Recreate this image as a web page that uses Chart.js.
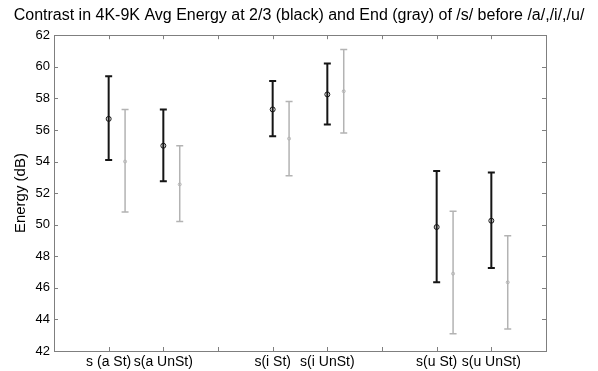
<!DOCTYPE html>
<html>
<head>
<meta charset="utf-8">
<script src="https://cdn.jsdelivr.net/npm/chart.js"></script>
<style>
  html, body { margin: 0; padding: 0; background: #fff; }
  #wrap { width: 598px; height: 371px; }
</style>
</head>
<body>
<div id="wrap"><canvas id="c" width="598" height="371"></canvas></div>
<script>
// 类别（空字符串 = 分隔用的空位）
const categories = ['s (a St)', 's(a UnSt)', '', 's(i St)', 's(i UnSt)', '', 's(u St)', 's(u UnSt)'];

// 2/3 处（黑色）
const blackMean = [56.7, 55.0, null, 57.3, 58.25, null, 49.85, 50.25];
const blackLow  = [54.1, 52.75, null, 55.6, 56.35, null, 46.35, 47.25];
const blackHigh = [59.4, 57.3, null, 59.1, 60.2, null, 53.4, 53.3];

// 结尾（灰色）
const grayMean = [54.0, 52.55, null, 55.45, 58.45, null, 46.9, 46.35];
const grayLow  = [50.8, 50.2, null, 53.1, 55.8, null, 43.1, 43.4];
const grayHigh = [57.3, 55.0, null, 57.8, 61.1, null, 50.85, 49.3];

// y 轴刻度
const yMin = 42, yMax = 62, yStep = 2;

const GRAY_SHIFT = 0.3;
const FONT = 'Liberation Sans, Arial, Helvetica, sans-serif';

function points(means, shift) {
    const out = [];
    means.forEach((m, i) => {
        if (m !== null) out.push({ x: i + 1 + shift, y: m });
    });
    return out;
}

// 误差线 + MATLAB 风格边框
const errorBars = {
    id: 'errorBars',
    beforeDatasetsDraw(chart) {
        const { ctx, scales: { x, y } } = chart;
        function bar(xv, lo, hi, color, lw, cap) {
            const px = x.getPixelForValue(xv);
            const p1 = y.getPixelForValue(lo);
            const p2 = y.getPixelForValue(hi);
            ctx.save();
            ctx.strokeStyle = color;
            ctx.lineWidth = lw;
            ctx.beginPath();
            ctx.moveTo(px, p1); ctx.lineTo(px, p2);
            ctx.moveTo(px - cap, p1); ctx.lineTo(px + cap, p1);
            ctx.moveTo(px - cap, p2); ctx.lineTo(px + cap, p2);
            ctx.stroke();
            ctx.restore();
        }
        categories.forEach((c, i) => {
            if (blackMean[i] !== null) bar(i + 1, blackLow[i], blackHigh[i], '#151515', 2, 3.5);
            if (grayMean[i] !== null) bar(i + 1 + GRAY_SHIFT, grayLow[i], grayHigh[i], '#b3b3b3', 1.5, 3.5);
        });
    },
    afterDraw(chart) {
        const { ctx, chartArea: a, scales: { x, y } } = chart;
        ctx.save();
        ctx.strokeStyle = '#7f7f7f';
        ctx.lineWidth = 1;
        ctx.strokeRect(Math.round(a.left) + 0.5, Math.round(a.top) + 0.5,
            Math.round(a.right - a.left), Math.round(a.bottom - a.top));
        ctx.beginPath();
        const tl = 4;
        for (let v = yMin + yStep; v < yMax; v += yStep) {
            const py = Math.round(y.getPixelForValue(v)) + 0.5;
            ctx.moveTo(a.left, py); ctx.lineTo(a.left + tl, py);
            ctx.moveTo(a.right, py); ctx.lineTo(a.right - tl, py);
        }
        for (let i = 1; i <= categories.length; i++) {
            const px = Math.round(x.getPixelForValue(i)) + 0.5;
            ctx.moveTo(px, a.bottom); ctx.lineTo(px, a.bottom - tl);
            ctx.moveTo(px, a.top); ctx.lineTo(px, a.top + tl);
        }
        ctx.stroke();
        ctx.restore();
    }
};

new Chart(document.getElementById('c'), {
    type: 'scatter',
    data: {
        datasets: [{
            label: 'black',
            data: points(blackMean, 0),
            pointStyle: 'circle',
            pointRadius: 2.5,
            borderWidth: 1,
            borderColor: '#151515',
            backgroundColor: 'rgba(255,255,255,0)'
        }, {
            label: 'gray',
            data: points(grayMean, GRAY_SHIFT),
            pointStyle: 'circle',
            pointRadius: 1.5,
            borderWidth: 1,
            borderColor: '#b3b3b3',
            backgroundColor: 'rgba(255,255,255,0)'
        }]
    },
    options: {
        responsive: false,
        animation: false,
        layout: { padding: 0 },
        plugins: {
            legend: { display: false },
            tooltip: { enabled: false },
            title: {
                display: true,
                text: 'Contrast in 4K-9K Avg Energy at 2/3 (black) and End (gray) of /s/ before /a/,/i/,/u/',
                color: '#000',
                font: { family: FONT, size: 16, weight: 'normal' },
                padding: { top: 6, bottom: 10 }
            }
        },
        scales: {
            x: {
                type: 'linear',
                min: 0,
                max: categories.length + 1,
                afterBuildTicks(scale) {
                    scale.ticks = categories.map((c, i) => ({ value: i + 1 }));
                },
                afterFit(scale) { scale.height = 20; },
                grid: { display: false, drawTicks: false },
                border: { display: false },
                ticks: {
                    autoSkip: false,
                    maxRotation: 0,
                    padding: 3,
                    color: '#000',
                    font: { family: FONT, size: 14 },
                    callback: (v) => categories[v - 1] || ''
                }
            },
            y: {
                min: yMin,
                max: yMax,
                afterFit(scale) { scale.width = 54; },
                grid: { display: false, drawTicks: false },
                border: { display: false },
                title: {
                    display: true,
                    text: 'Energy (dB)',
                    color: '#000',
                    font: { family: FONT, size: 15 },
                    padding: { top: 12, bottom: 0 }
                },
                ticks: {
                    stepSize: yStep,
                    padding: 4,
                    color: '#000',
                    font: { family: FONT, size: 13 }
                }
            },
            // 右侧留白（与参考图右边距一致）
            yRight: {
                position: 'right',
                min: yMin,
                max: yMax,
                afterFit(scale) { scale.width = 52; },
                grid: { display: false, drawTicks: false },
                border: { display: false },
                ticks: { display: false }
            }
        }
    },
    plugins: [errorBars]
});
</script>
</body>
</html>
